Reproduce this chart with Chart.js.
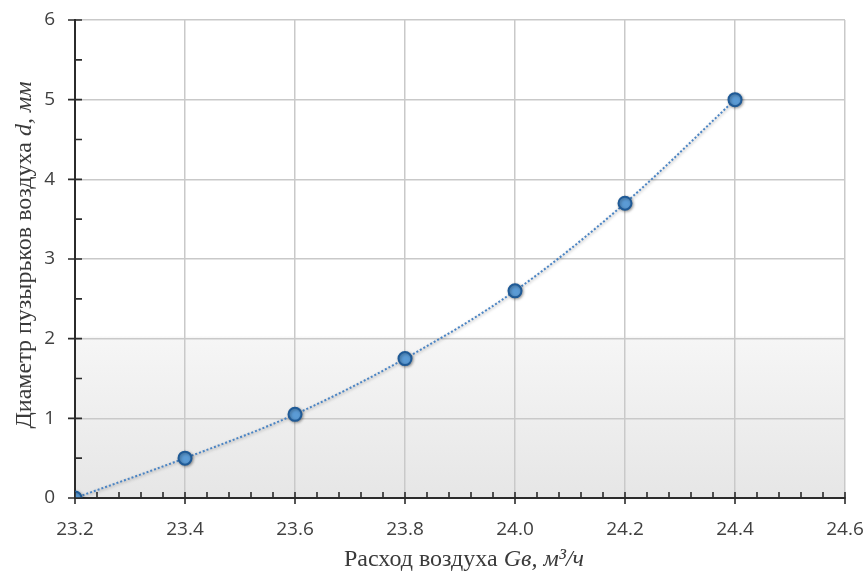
<!DOCTYPE html>
<html>
<head>
<meta charset="utf-8">
<script src="https://cdn.jsdelivr.net/npm/chart.js@4/dist/chart.umd.min.js"></script>
<style>
  html, body { margin: 0; padding: 0; background: #fff; }
  #wrap { width: 864px; height: 575px; }
</style>
</head>
<body>
<div id="wrap"><canvas id="c"></canvas></div>
<script>
// air flow, m3/h
const airFlow = [23.2, 23.4, 23.6, 23.8, 24.0, 24.2, 24.4];
// bubble diameter, mm
const bubbleDiam = [0, 0.5, 1.05, 1.75, 2.6, 3.7, 5.0];
const xTicks = [23.2, 23.4, 23.6, 23.8, 24.0, 24.2, 24.4, 24.6];
const yTicks = [0, 1, 2, 3, 4, 5, 6];

const serif = '"Liberation Serif", "DejaVu Serif", serif';

// background of the plot area + tick marks + mixed-style axis titles
const decor = {
    id: 'decor',
    beforeDraw(chart) {
        const {ctx, chartArea: a} = chart;
        const g = ctx.createLinearGradient(0, a.top, 0, a.bottom);
        g.addColorStop(0, '#ffffff');
        g.addColorStop(0.66, '#ffffff');
        g.addColorStop(0.665, '#f6f6f6');
        g.addColorStop(1, '#e6e6e6');
        ctx.save();
        ctx.fillStyle = g;
        ctx.fillRect(a.left, a.top, a.right - a.left, a.bottom - a.top);
        ctx.restore();
    },
    afterDraw(chart) {
        const {ctx, chartArea: a, scales} = chart;
        const x = scales.x, y = scales.y;
        ctx.save();
        ctx.strokeStyle = '#2b2b2b';
        ctx.lineWidth = 1.6;
        ctx.beginPath();
        // x ticks: majors cross the axis, 4 minors between
        for (let i = 0; i < xTicks.length; i++) {
            const px = x.getPixelForValue(xTicks[i]);
            ctx.moveTo(px, a.bottom - 6); ctx.lineTo(px, a.bottom + 6);
            if (i < xTicks.length - 1) {
                for (let k = 1; k < 5; k++) {
                    const m = x.getPixelForValue(xTicks[i] + k * 0.04);
                    ctx.moveTo(m, a.bottom - 6); ctx.lineTo(m, a.bottom);
                }
            }
        }
        for (let i = 0; i < yTicks.length; i++) {
            const py = y.getPixelForValue(yTicks[i]);
            ctx.moveTo(a.left - 7, py); ctx.lineTo(a.left + 7, py);
            if (i < yTicks.length - 1) {
                const m = y.getPixelForValue(yTicks[i] + 0.5);
                ctx.moveTo(a.left, m); ctx.lineTo(a.left + 7, m);
            }
        }
        ctx.stroke();

        ctx.fillStyle = '#3a3a3a';
        ctx.textBaseline = 'alphabetic';
        const size = 24;
        const reg = size + 'px ' + serif;
        const ita = 'italic ' + size + 'px ' + serif;

        // x title
        const xParts = [['Расход воздуха ', reg], ['G', ita], ['в', ita], [', м³/ч', ita]];
        let w = 0;
        xParts.forEach(p => { ctx.font = p[1]; w += ctx.measureText(p[0]).width; });
        let cx = 464 - w / 2;
        xParts.forEach(p => { ctx.font = p[1]; ctx.fillText(p[0], cx, 566); cx += ctx.measureText(p[0]).width; });

        // y title, rotated
        const yParts = [['Диаметр пузырьков воздуха ', reg], ['d, мм', ita]];
        w = 0;
        yParts.forEach(p => { ctx.font = p[1]; w += ctx.measureText(p[0]).width; });
        ctx.translate(31, 255);
        ctx.rotate(-Math.PI / 2);
        cx = -w / 2;
        yParts.forEach(p => { ctx.font = p[1]; ctx.fillText(p[0], cx, 0); cx += ctx.measureText(p[0]).width; });
        ctx.restore();
    }
};

// soft shadow under the markers
const shadow = {
    id: 'shadow',
    beforeDatasetDraw(chart) {
        const ctx = chart.ctx;
        ctx.save();
        ctx.shadowColor = 'rgba(0,0,0,0.35)';
        ctx.shadowBlur = 3;
        ctx.shadowOffsetX = 1;
        ctx.shadowOffsetY = 1;
    },
    afterDatasetDraw(chart) { chart.ctx.restore(); }
};

new Chart(document.getElementById('c'), {
    type: 'scatter',
    data: {
        datasets: [{
            data: airFlow.map((v, i) => ({x: v, y: bubbleDiam[i]})),
            showLine: true,
            borderColor: '#4a84c4',
            borderWidth: 2,
            borderDash: [2, 2],
            cubicInterpolationMode: 'monotone',
            pointRadius: 6.5,
            pointHoverRadius: 6.5,
            pointBackgroundColor: '#5b9bd5',
            pointBorderColor: '#1f5a96',
            pointBorderWidth: 2
        }]
    },
    options: {
        responsive: true,
        maintainAspectRatio: false,
        animation: false,
        layout: { padding: { top: 20, right: 19, left: 0, bottom: 0 } },
        plugins: { legend: { display: false }, tooltip: { enabled: false } },
        scales: {
            x: {
                type: 'linear',
                min: 23.2, max: 24.6,
                afterBuildTicks: s => { s.ticks = xTicks.map(v => ({value: v})); },
                afterFit: s => { s.height = 77; s.paddingLeft = 0; s.paddingRight = 0; },
                grid: { color: '#c9c9c9', lineWidth: 1.5, drawTicks: false },
                border: { color: '#2b2b2b', width: 2 },
                ticks: {
                    padding: 20,
                    color: '#404040',
                    font: { family: '"Open Sans", sans-serif', size: 19 },
                    callback: v => v.toFixed(1),
                    maxRotation: 0
                }
            },
            y: {
                min: 0, max: 6,
                afterBuildTicks: s => { s.ticks = yTicks.map(v => ({value: v})); },
                afterFit: s => { s.width = 75; s.paddingTop = 0; s.paddingBottom = 0; },
                grid: { color: '#c9c9c9', lineWidth: 1.5, drawTicks: false },
                border: { color: '#2b2b2b', width: 2 },
                ticks: {
                    padding: 20,
                    color: '#404040',
                    font: { family: '"Open Sans", sans-serif', size: 19 }
                }
            }
        }
    },
    plugins: [decor, shadow]
});
</script>
</body>
</html>
